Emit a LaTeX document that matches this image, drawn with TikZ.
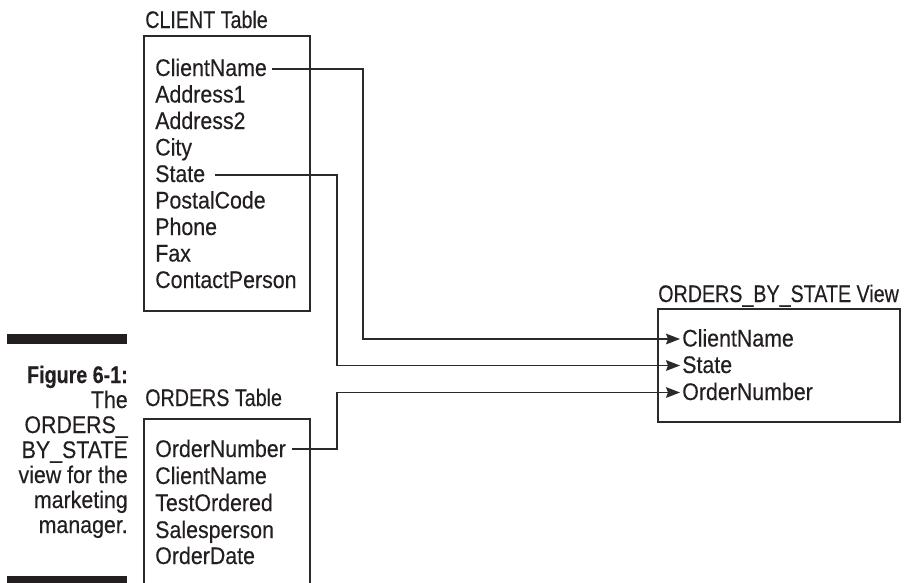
\documentclass[tikz,border=0pt]{standalone}
\usepackage{fontspec}
\setmainfont{Liberation Sans}
\newfontfamily\itemfont[FakeStretch=0.89,FakeBold=0.3]{Liberation Sans}
\newfontfamily\titlefont[FakeStretch=0.82,FakeBold=0.3]{Liberation Sans}
\usetikzlibrary{calc,arrows.meta}
\definecolor{ink}{HTML}{231F20}
\definecolor{rule}{HTML}{2A2A2A}
\begin{document}
\begin{tikzpicture}[x=0.75pt,y=-0.75pt,
  item/.style={anchor=base west,inner sep=0pt,text=ink,font=\itemfont\fontsize{18}{21}\selectfont},
  ttl/.style={anchor=base west,inner sep=0pt,text=ink,font=\titlefont\fontsize{18}{21}\selectfont},
  capl/.style={anchor=base east,inner sep=0pt,text=ink,font=\itemfont\fontsize{18}{21}\selectfont},
  capb/.style={anchor=base east,inner sep=0pt,text=ink,font=\titlefont\fontsize{18}{21}\selectfont\bfseries},
  tbox/.style={draw=rule,line width=1.1pt},
  conn/.style={draw=rule,line width=1.05pt},
  arr/.style={conn,-{Stealth[length=10.5pt,width=8pt,inset=1.5pt]}},
  bar/.style={fill=ink}]
\useasboundingbox (0,0) rectangle (905,582);

% caption
\fill[bar] (7,334) rectangle (127,344);
\fill[bar] (7,576) rectangle (127,592);
\node[capb] (c1) at (128,383) {Figure 6-1:};
\node[capl] (c2) at (128,408) {The};
\node[capl] (c3) at (128,433) {ORDERS\_};
\node[capl] (c4) at (128,458) {BY\_STATE};
\node[capl] (c5) at (128,483) {view for the};
\node[capl] (c6) at (128,508) {marketing};
\node[capl] (c7) at (128,533) {manager.};

% CLIENT table
\node[ttl] (clientT) at (145,28) {CLIENT Table};
\draw[tbox] (144,36) rectangle (310,311);
\node[item] (ccn) at (155,76) {ClientName};
\node[item] (ca1) at (155,102.5) {Address1};
\node[item] (ca2) at (155,129) {Address2};
\node[item] (cci) at (155,155.5) {City};
\node[item] (cst) at (155,182) {State};
\node[item] (cpc) at (155,208.5) {PostalCode};
\node[item] (cph) at (155,235) {Phone};
\node[item] (cfx) at (155,261.5) {Fax};
\node[item] (ccp) at (155,288) {ContactPerson};

% ORDERS table
\node[ttl] (ordersT) at (145,406) {ORDERS Table};
\draw[tbox] (144,600) |- (310,419) -- (310,600);
\node[item] (oon) at (155,457) {OrderNumber};
\node[item] (ocn) at (155,484) {ClientName};
\node[item] (oto) at (155,511) {TestOrdered};
\node[item] (osp) at (155,538) {Salesperson};
\node[item] (ood) at (155,564) {OrderDate};

% view
\node[ttl] (viewT) at (658,302) {ORDERS\_BY\_STATE View};
\draw[tbox] (658,309) rectangle (900,422);
\node[item] (vcn) at (682,346.5) {ClientName};
\node[item] (vst) at (682,373) {State};
\node[item] (von) at (682,400) {OrderNumber};

% connectors
\coordinate (xa) at (363,0);
\coordinate (xb) at (337,0);
\coordinate (s1) at ($(ccn.base east)+(5,-7)$);
\coordinate (t1) at ($(vcn.base west)+(-2,-7.5)$);
\coordinate (s2) at ($(cst.base east)+(10,-7)$);
\coordinate (t2) at ($(vst.base west)+(-2,-7.5)$);
\coordinate (s3) at ($(oon.base east)+(6,-8)$);
\coordinate (t3) at ($(von.base west)+(-2,-7.5)$);
\draw[arr] (s1) -- (s1 -| xa) |- (t1);
\draw[arr] (s2) -- (s2 -| xb) |- (t2);
\draw[arr] (s3) -- (s3 -| xb) |- (t3);
\end{tikzpicture}
\end{document}
